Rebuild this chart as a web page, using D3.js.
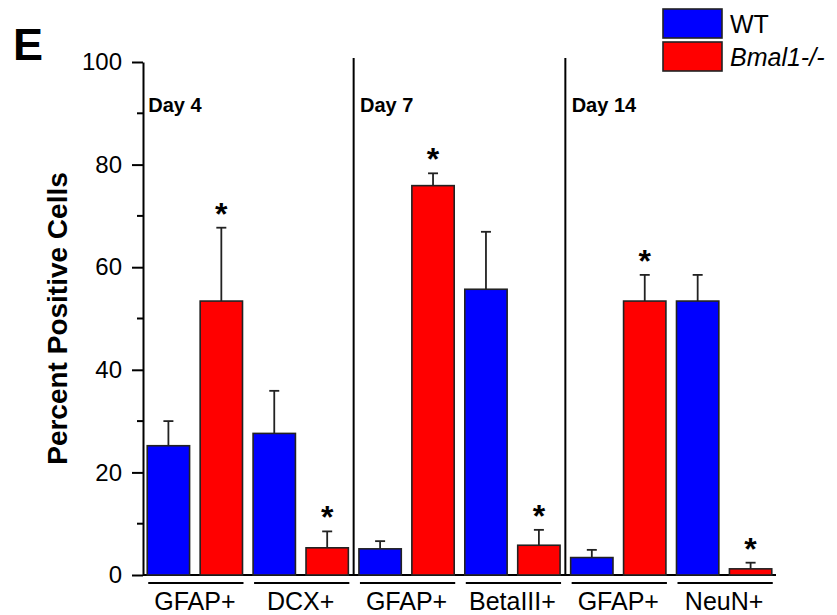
<!DOCTYPE html>
<html>
<head>
<meta charset="utf-8">
<script src="https://cdn.jsdelivr.net/npm/d3@7"></script>
<style>
  html, body { margin: 0; padding: 0; background: #fff; }
  svg { display: block; font-family: "Liberation Sans", Arial, sans-serif; }
</style>
</head>
<body>
<script>
// values (percent positive cells, mean and error)
const days = ["Day 4", "Day 7", "Day 14"]
const markers = ["GFAP+", "DCX+", "GFAP+", "BetaIII+", "GFAP+", "NeuN+"]
const markerDay = [0, 0, 1, 1, 2, 2]
const wtMean = [25.2, 27.6, 5.1, 55.7, 3.4, 53.4]
const wtErr = [4.8, 8.3, 1.5, 11.2, 1.5, 5.1]
const koMean = [53.4, 5.3, 75.9, 5.8, 53.4, 1.2]
const koErr = [14.3, 3.2, 2.4, 3.0, 5.1, 1.2]
const koSignificant = [true, true, true, true, true, true]
const yTicks = [0, 20, 40, 60, 80, 100]
const genotypes = ["WT", "Bmal1-/-"]
const colors = {"WT": "#0000ff", "Bmal1-/-": "#ff0000"}

const width = 837, height = 615
const dims = {left: 143, right: 776, top: 62, bottom: 575}

const bars = []
markers.forEach((m, i) => {
    bars.push({key: `${i}-WT`, marker: i, geno: "WT", value: wtMean[i], err: wtErr[i], sig: false})
    bars.push({key: `${i}-KO`, marker: i, geno: "Bmal1-/-", value: koMean[i], err: koErr[i], sig: koSignificant[i]})
})

const x = d3.scaleBand()
    .domain(bars.map(d => d.key))
    .range([dims.left, dims.right])
    .paddingInner(0.2)
    .paddingOuter(0.08)

const y = d3.scaleLinear().domain([0, 100]).range([dims.bottom, dims.top])

const svg = d3.select("body").append("svg")
    .attr("width", width)
    .attr("height", height)

// panel letter
svg.append("text")
    .attr("x", 13)
    .attr("y", 60)
    .attr("font-size", 45)
    .attr("font-weight", "bold")
    .text("E")

// y axis with minor ticks
const yAxis = svg.append("g")
    .attr("transform", `translate(${dims.left},0)`)
    .call(d3.axisLeft(y).tickValues(yTicks).tickSize(11).tickPadding(10).tickSizeOuter(0))
yAxis.select(".domain").attr("stroke-width", 2)
yAxis.selectAll(".tick line").attr("stroke-width", 2)
yAxis.selectAll(".tick text")
    .attr("font-size", 24)
    .attr("font-family", "Liberation Sans, Arial, sans-serif")
    .attr("fill", "#000")

svg.append("g")
    .attr("transform", `translate(${dims.left},0)`)
    .selectAll("line")
    .data(d3.range(10, 100, 20))
    .join("line")
    .attr("x1", -6)
    .attr("x2", 0)
    .attr("y1", d => y(d))
    .attr("y2", d => y(d))
    .attr("stroke", "#000")
    .attr("stroke-width", 2)

svg.append("text")
    .attr("transform", `translate(67,${y(50)}) rotate(-90)`)
    .attr("text-anchor", "middle")
    .attr("font-size", 28)
    .attr("font-weight", "bold")
    .text("Percent Positive Cells")

// x baseline
svg.append("line")
    .attr("x1", dims.left)
    .attr("x2", dims.right)
    .attr("y1", y(0))
    .attr("y2", y(0))
    .attr("stroke", "#000")
    .attr("stroke-width", 2)

// day dividers and labels
const dayStart = days.map((d, i) => x(`${markerDay.indexOf(i)}-WT`))
dayStart.forEach((sx, i) => {
    if (i > 0) {
        const prevEnd = x(`${markerDay.indexOf(i) - 1}-KO`) + x.bandwidth()
        svg.append("line")
            .attr("x1", (sx + prevEnd) / 2)
            .attr("x2", (sx + prevEnd) / 2)
            .attr("y1", y(100) - 4)
            .attr("y2", y(0))
            .attr("stroke", "#000")
            .attr("stroke-width", 2)
    }
    svg.append("text")
        .attr("x", sx + 1)
        .attr("y", 112)
        .attr("font-size", 20)
        .attr("font-weight", "bold")
        .text(days[i])
})

// error bars (drawn first so the bar covers the stem)
const errG = svg.append("g").attr("stroke", "#222").attr("stroke-width", 1.8)
bars.forEach(d => {
    const cx = x(d.key) + x.bandwidth() / 2
    errG.append("line")
        .attr("x1", cx).attr("x2", cx)
        .attr("y1", y(d.value)).attr("y2", y(d.value + d.err))
    errG.append("line")
        .attr("x1", cx - 5).attr("x2", cx + 5)
        .attr("y1", y(d.value + d.err)).attr("y2", y(d.value + d.err))
})

svg.append("g")
    .selectAll("rect")
    .data(bars)
    .join("rect")
    .attr("x", d => x(d.key))
    .attr("y", d => y(d.value))
    .attr("width", x.bandwidth())
    .attr("height", d => y(0) - y(d.value))
    .attr("fill", d => colors[d.geno])
    .attr("stroke", "#222")
    .attr("stroke-width", 1.6)

// significance asterisks
svg.append("g")
    .selectAll("text")
    .data(bars.filter(d => d.sig))
    .join("text")
    .attr("x", d => x(d.key) + x.bandwidth() / 2)
    .attr("y", d => y(d.value + d.err) - 3)
    .attr("text-anchor", "middle")
    .attr("font-size", 32)
    .attr("font-weight", "bold")
    .text("*")

// category labels with underline per pair
markers.forEach((m, i) => {
    const x0 = x(`${i}-WT`)
    const x1 = x(`${i}-KO`) + x.bandwidth()
    svg.append("line")
        .attr("x1", x0 + 1).attr("x2", x1 + 1)
        .attr("y1", 583).attr("y2", 583)
        .attr("stroke", "#000")
        .attr("stroke-width", 2)
    svg.append("text")
        .attr("x", (x0 + x1) / 2)
        .attr("y", 610)
        .attr("text-anchor", "middle")
        .attr("font-size", 25)
        .text(m)
})

// legend
const legend = svg.append("g").attr("transform", "translate(663,9)")
genotypes.forEach((g, i) => {
    legend.append("rect")
        .attr("x", 0)
        .attr("y", i * 33)
        .attr("width", 59)
        .attr("height", 29)
        .attr("fill", colors[g])
        .attr("stroke", "#222")
        .attr("stroke-width", 1.6)
    legend.append("text")
        .attr("x", 67)
        .attr("y", i * 33 + 24)
        .attr("font-size", 25)
        .attr("font-style", i === 1 ? "italic" : "normal")
        .text(g)
})
</script>
</body>
</html>
